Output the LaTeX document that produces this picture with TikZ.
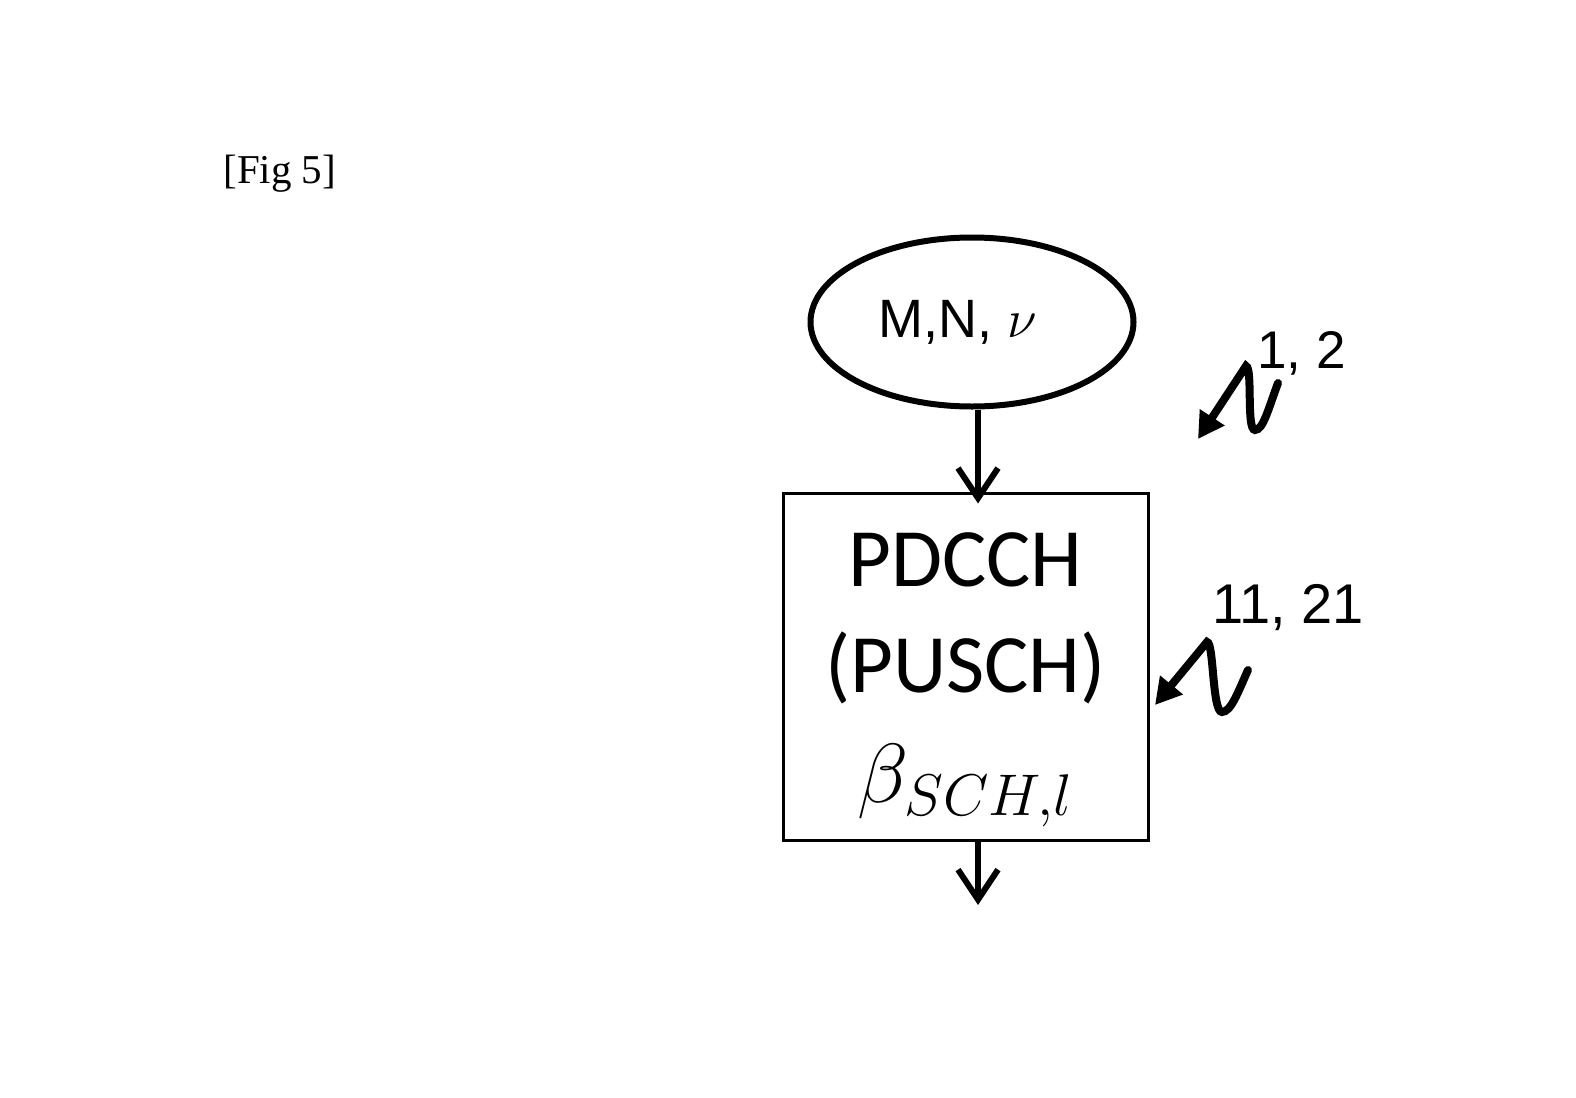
\RequirePackage{fix-cm}
\documentclass[tikz,border=0pt]{standalone}
\usepackage{fontspec}
\setmainfont{Liberation Serif}
\newfontfamily\arialfont{Liberation Sans}
\newfontfamily\calfont{Carlito}
\usetikzlibrary{arrows.meta,positioning,shapes.geometric}
\tikzset{
  paramellipse/.style={ellipse,draw,line width=3pt,minimum width=161.5pt,minimum height=84.5pt,
                       inner sep=0pt,font=\arialfont\fontsize{27}{30}\selectfont},
  chanbox/.style={draw,line width=1.5pt,minimum width=182.5pt,minimum height=173.5pt,
                  align=center,inner sep=0pt,font=\calfont\fontsize{41.5}{53}\selectfont},
  flow/.style={-{Straight Barb[length=15pt,width=20pt]},line width=3pt},
  refarrow/.style={-{Triangle[length=13pt,width=14pt]},line width=4pt,line cap=round},
  reflabel/.style={anchor=base west,inner sep=0pt,font=\arialfont\fontsize{26.5}{30}\selectfont}
}
\begin{document}
\begin{tikzpicture}[x=0.5pt,y=-0.5pt]
    \useasboundingbox (0,0) rectangle (1576,1098);
    \node[anchor=base west,inner sep=0pt,font=\fontsize{20.5}{24}\selectfont] (figlabel) at (223,183) {[Fig 5]};

    \node[paramellipse] (params) at (972,322) {M,N, $\nu$\hspace*{14pt}};
    \node[chanbox] (chan) at (965.5,666.5)
      {\rule{0pt}{40pt}PDCCH\\(PUSCH)\\[2pt]{\fontsize{42}{53}\selectfont$\beta_{SCH,l}$}};

    \coordinate (out) at (978,905);
    \coordinate (refA) at (1278,383);
    \coordinate (tipA) at (1198,439);
    \coordinate (refB) at (1248,670);
    \coordinate (tipB) at (1155,705);

    \node[reflabel] (labA) at (1257,368) {1, 2};
    \node[reflabel,font=\arialfont\fontsize{28}{32}\selectfont] (labB) at (1212,623) {11, 21};

    \draw[flow] (params.south -| out) -- ([yshift=-6pt]chan.north -| out);
    \draw[flow] (chan.south -| out) -- (out);

    \draw[refarrow] (refA) .. controls (1268,410) and (1263,430) .. (1255,430)
      .. controls (1246,430) and (1253,368) .. (1246,366) -- (tipA);
    \draw[refarrow] (refB) .. controls (1238,692) and (1231,712) .. (1222,712)
      .. controls (1212,712) and (1214,642) .. (1207,642) -- (tipB);
  \end{tikzpicture}
\end{document}
